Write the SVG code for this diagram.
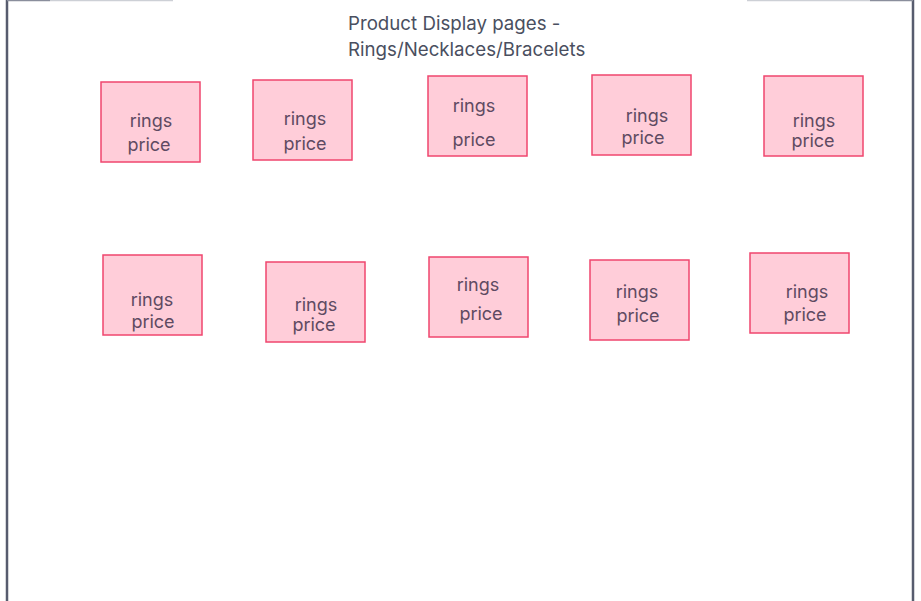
<svg xmlns="http://www.w3.org/2000/svg" width="921" height="601" viewBox="0 0 921 601">
<style>
.box{fill:#ffcdd9;stroke:#f0466e;stroke-width:1.5}
.t{font-family:Inter,"Noto Sans",sans-serif;font-size:18px;fill:#5e4a62;text-anchor:middle}
.title{font-family:Inter,"Noto Sans",sans-serif;font-size:18.7px;fill:#4a4f60}
.frame{stroke:#575c6e;stroke-width:2.5;fill:none}
</style>
<rect width="921" height="601" fill="#ffffff"/>
<g id="frame">
<line class="frame" x1="7" y1="0" x2="7" y2="601"/>
<line class="frame" x1="913" y1="0" x2="913" y2="601"/>
<line x1="7" y1="0.5" x2="50" y2="0.5" stroke="#8a8e9c" stroke-width="1.5"/>
<line x1="50" y1="0.5" x2="173" y2="0.5" stroke="#cdd0d6" stroke-width="1.5"/>
<line x1="747" y1="0.5" x2="870" y2="0.5" stroke="#cdd0d6" stroke-width="1.5"/>
<line x1="870" y1="0.5" x2="913" y2="0.5" stroke="#8a8e9c" stroke-width="1.5"/>
</g>
<g id="title">
<text class="title" x="348" y="30">Product Display pages -</text>
<text class="title" x="348" y="56">Rings/Necklaces/Bracelets</text>
</g>
<g id="connectors"></g>
<g id="n1"><rect class="box" x="101" y="82" width="99" height="80"/><text class="t" x="151" y="127">rings</text><text class="t" x="149" y="151">price</text></g>
<g id="n2"><rect class="box" x="253" y="80" width="99" height="80"/><text class="t" x="305" y="125">rings</text><text class="t" x="305" y="150">price</text></g>
<g id="n3"><rect class="box" x="428" y="76" width="99" height="80"/><text class="t" x="474" y="112">rings</text><text class="t" x="474" y="146">price</text></g>
<g id="n4"><rect class="box" x="592" y="75" width="99" height="80"/><text class="t" x="647" y="122">rings</text><text class="t" x="643" y="144">price</text></g>
<g id="n5"><rect class="box" x="764" y="76" width="99" height="80"/><text class="t" x="814" y="127">rings</text><text class="t" x="813" y="147">price</text></g>
<g id="n6"><rect class="box" x="103" y="255" width="99" height="80"/><text class="t" x="152" y="306">rings</text><text class="t" x="153" y="328">price</text></g>
<g id="n7"><rect class="box" x="266" y="262" width="99" height="80"/><text class="t" x="316" y="311">rings</text><text class="t" x="314" y="331">price</text></g>
<g id="n8"><rect class="box" x="429" y="257" width="99" height="80"/><text class="t" x="478" y="291">rings</text><text class="t" x="481" y="320">price</text></g>
<g id="n9"><rect class="box" x="590" y="260" width="99" height="80"/><text class="t" x="637" y="298">rings</text><text class="t" x="638" y="322">price</text></g>
<g id="n10"><rect class="box" x="750" y="253" width="99" height="80"/><text class="t" x="807" y="298">rings</text><text class="t" x="805" y="321">price</text></g>
</svg>
